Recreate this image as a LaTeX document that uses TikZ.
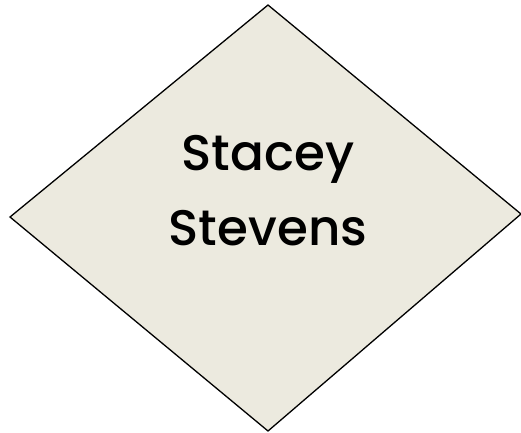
\documentclass[tikz,border=0pt]{standalone}
\usepackage{fontspec}
\setmainfont{Poppins Medium}
\definecolor{dfill}{HTML}{ECEADF}
\begin{document}
\begin{tikzpicture}[x=1pt,y=-1pt,
  dshape/.style={draw=black,line width=1.3pt,fill=dfill,line join=miter},
  dtext/.style={font=\fontsize{50}{75}\selectfont,align=center,text=black,inner sep=0}]
\useasboundingbox (0,0) rectangle (521,432);
\coordinate (t) at (268,5);
\coordinate (l) at (10,217);
\coordinate (r) at (521,214);
\coordinate (b) at (268,431);
\draw[dshape] (t) -- (r) -- (b) -- (l) -- cycle;
\node[dtext,anchor=base] (s1) at (268,170) {Stacey};
\node[dtext,anchor=base] (s2) at (268,245) {Stevens};
\end{tikzpicture}
\end{document}
